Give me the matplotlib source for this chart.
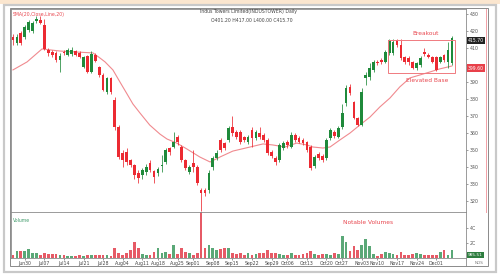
import matplotlib
matplotlib.use("Agg")
import matplotlib.pyplot as plt
import numpy as np
import pandas as pd
from matplotlib.patches import Rectangle
from matplotlib.lines import Line2D

# trading days (NSE holidays removed)
holidays = ["2025-08-15", "2025-08-27", "2025-10-02", "2025-10-22", "2025-11-05"]
dates = pd.bdate_range("2025-06-25", "2025-12-05")
dates = dates[~dates.isin(pd.to_datetime(holidays))]

opens = [
    416.5, 413.0, 418.8, 416.5, 420.6, 420.0, 426.0, 426.5, 423.5, 408.8,
    407.5, 407.0, 403.0, 407.7, 406.0, 406.5, 408.0, 407.0, 399.0, 405.3,
    396.0, 406.0, 399.0, 394.0, 384.0, 392.3, 379.4, 363.5, 348.3, 349.0,
    344.0, 341.2, 336.5, 335.3, 337.0, 342.4, 337.7, 336.5, 340.5, 343.0,
    351.0, 352.0, 357.6, 352.0, 344.2, 337.0, 342.4, 340.0, 326.5, 326.5,
    326.5, 340.0, 345.3, 356.0, 354.0, 356.0, 363.5, 360.6, 360.6, 357.7,
    354.7, 361.8, 357.0, 360.0, 359.0, 356.0, 348.8, 345.3, 344.2, 351.2,
    354.7, 351.8, 358.9, 357.0, 356.0, 354.7, 351.8, 340.6, 347.7, 346.5,
    345.3, 357.1, 360.6, 357.7, 363.5, 377.6, 387.0, 378.2, 368.8, 364.7,
    392.3, 392.9, 397.0, 401.8, 403.0, 401.8, 407.0, 407.0, 414.7, 411.8,
    404.7, 404.1, 401.8, 398.2, 400.0, 407.7, 405.9, 404.7, 404.7, 401.8,
    405.9, 401.8, 401.2]
highs = [
    418.0, 418.0, 420.0, 423.5, 426.5, 426.0, 428.5, 429.0, 427.0, 410.0,
    409.0, 408.5, 407.0, 409.0, 410.0, 410.5, 409.0, 408.0, 405.5, 406.0,
    408.0, 407.0, 399.5, 395.0, 393.0, 393.0, 381.0, 365.0, 350.0, 351.0,
    345.0, 342.0, 338.0, 339.5, 342.0, 344.0, 338.5, 340.0, 347.0, 351.0,
    352.0, 360.6, 359.0, 353.0, 345.0, 341.0, 350.0, 341.0, 327.5, 327.5,
    338.0, 346.5, 350.0, 357.0, 355.0, 364.0, 370.0, 362.0, 361.5, 358.5,
    359.0, 363.5, 362.0, 363.5, 360.0, 357.0, 350.0, 346.5, 354.0, 355.5,
    356.0, 360.5, 360.0, 358.0, 357.0, 355.5, 353.0, 347.0, 349.0, 347.5,
    357.0, 363.0, 362.0, 364.0, 377.0, 388.0, 389.0, 379.0, 369.5, 386.5,
    396.0, 401.0, 403.0, 403.0, 404.0, 409.0, 415.5, 415.5, 415.5, 415.0,
    405.5, 405.0, 402.5, 402.0, 405.0, 410.0, 407.0, 405.5, 405.5, 405.5,
    406.5, 413.5, 417.0]
lows = [
    411.5, 412.0, 412.0, 415.5, 419.5, 419.0, 424.5, 424.0, 409.0, 405.5,
    404.5, 402.0, 396.0, 406.0, 405.0, 405.5, 405.0, 404.0, 398.0, 395.0,
    395.0, 401.5, 393.0, 384.5, 383.0, 383.0, 362.0, 345.0, 340.0, 341.0,
    340.0, 333.0, 330.5, 333.0, 335.5, 337.0, 330.5, 335.0, 337.0, 342.0,
    347.0, 351.5, 353.0, 343.0, 338.0, 336.0, 337.0, 329.5, 314.0, 323.0,
    325.0, 338.0, 344.0, 349.0, 350.0, 355.0, 358.0, 356.5, 353.5, 355.0,
    353.5, 352.0, 356.0, 356.5, 355.0, 347.0, 345.5, 341.5, 343.0, 350.0,
    351.5, 351.0, 355.0, 354.0, 353.0, 349.0, 338.5, 339.5, 344.0, 343.0,
    344.0, 356.0, 357.0, 357.0, 362.5, 376.0, 382.5, 368.0, 364.0, 364.0,
    388.0, 391.0, 396.0, 400.0, 400.5, 401.0, 406.0, 406.0, 410.5, 403.0,
    400.5, 400.0, 397.5, 397.0, 399.0, 405.5, 404.0, 401.0, 396.5, 401.0,
    402.0, 398.5, 400.0]
closes = [
    414.5, 416.5, 413.0, 422.4, 425.3, 424.7, 427.0, 424.7, 409.5, 407.0,
    406.0, 403.0, 405.0, 407.0, 408.8, 409.0, 406.0, 404.7, 404.7, 396.0,
    406.5, 402.4, 394.0, 385.3, 392.3, 384.0, 363.5, 346.0, 344.2, 343.0,
    341.2, 335.3, 333.6, 338.3, 340.0, 338.3, 334.0, 338.8, 341.2, 350.0,
    349.0, 354.7, 354.7, 344.2, 339.4, 340.0, 340.0, 330.6, 324.7, 324.7,
    336.5, 345.3, 348.3, 350.0, 351.0, 363.0, 360.0, 357.7, 354.7, 356.0,
    357.7, 357.0, 360.6, 357.7, 356.0, 348.3, 346.5, 343.0, 353.0, 354.2,
    353.0, 358.9, 356.0, 354.7, 354.2, 350.0, 339.4, 346.0, 345.3, 344.2,
    356.0, 361.8, 358.3, 363.0, 371.8, 386.5, 383.5, 368.8, 364.7, 384.1,
    394.1, 398.2, 401.8, 401.2, 401.8, 407.7, 414.7, 413.5, 411.8, 404.1,
    401.8, 401.8, 398.2, 401.2, 404.1, 406.5, 404.7, 401.8, 397.1, 404.7,
    403.0, 408.8, 415.7]
# volume in crore shares
volumes = [
    0.40, 0.93, 0.93, 0.93, 1.20, 0.67, 0.67, 0.40, 0.67, 0.53,
    0.53, 0.53, 0.40, 0.40, 0.27, 0.27, 0.27, 0.40, 0.27, 0.40,
    0.40, 0.40, 0.40, 0.40, 0.40, 0.27, 1.33, 0.67, 0.40, 0.67,
    1.07, 2.13, 1.33, 0.53, 0.40, 0.40, 0.80, 1.33, 0.67, 0.80,
    0.53, 1.73, 0.53, 1.33, 0.80, 0.67, 0.40, 0.67, 6.20, 1.33,
    1.73, 1.33, 1.07, 1.20, 1.33, 1.33, 0.67, 0.53, 0.67, 0.40,
    0.67, 0.40, 0.53, 0.67, 0.67, 1.07, 0.67, 0.67, 0.53, 0.40,
    0.40, 0.67, 0.40, 0.40, 0.53, 0.67, 0.93, 0.53, 0.40, 0.53,
    0.53, 0.40, 0.67, 0.53, 2.93, 2.13, 0.93, 1.60, 1.07, 1.73,
    2.53, 1.60, 0.53, 0.27, 0.53, 0.80, 0.67, 0.53, 0.40, 0.80,
    0.40, 0.40, 0.53, 0.67, 0.53, 0.40, 0.40, 0.40, 0.40, 0.80,
    1.07, 0.40, 1.07]

# SMA(20) line: (bar position, value)
sma_pos = [0.0, 3.6, 7.4, 12.0, 16.3, 20.4, 22.2, 23.5, 25.5, 27.3, 29.1,
           30.6, 32.4, 34.9, 37.5, 39.3, 41.8, 44.4, 47.7, 50.3, 52.8, 56.1,
           60.5, 63.8, 66.3, 69.4, 72.4, 75.0, 76.5, 79.1, 80.9, 83.4, 86.0,
           88.5, 91.1, 93.6, 96.2, 98.7, 101.3, 103.8, 106.4, 108.9, 112.0]
sma_val = [397.1, 401.8, 409.4, 408.2, 407.6, 407.1, 404.1, 401.8, 397.1,
           390.0, 383.0, 377.1, 371.8, 364.7, 359.4, 356.5, 354.1, 350.6,
           345.9, 343.0, 345.9, 349.4, 351.8, 353.6, 353.0, 351.8, 354.1,
           353.0, 351.8, 351.2, 351.8, 355.9, 360.0, 364.7, 369.4, 375.3,
           380.6, 387.1, 392.4, 394.1, 395.9, 397.7, 399.4]

price_ticks = [320, 330, 340, 350, 360, 370, 380, 390, 400, 410, 420, 430]
base_box = (95.7, 112.8, 395.3, 414.7)   # x0, x1, y0, y1
last_close_lbl = "415.70"
sma_lbl = "399.60"
last_vol_lbl = "985.51"

GREEN = "#1f8a3b"
RED = "#ec2a32"
VGREEN = "#5aa877"
VRED = "#e65a66"
ANN = "#e8474f"

o = np.array(opens); h = np.array(highs); l = np.array(lows); c = np.array(closes)
x = np.arange(len(c))
up = c >= o
cols = np.where(up, GREEN, RED)
vcols = np.where(up, VGREEN, VRED)

W, H = 500, 280
def box(left, top, right, bottom):
    return [left / W, 1 - bottom / H, (right - left) / W, (bottom - top) / H]

fig = plt.figure(figsize=(5, 2.8), dpi=100)
fig.patch.set_facecolor("white")

# outer frame
fig.add_artist(Rectangle((0, 1 - 4 / H), 1, 4 / H, transform=fig.transFigure,
                         color="#fbe6cf", lw=0, zorder=0))
fig.add_artist(Rectangle((4 / W, 1 - 272 / H), 492 / W, 267 / H, transform=fig.transFigure,
                         fill=False, ec="#c9c9c9", lw=1.6, zorder=0))
fig.add_artist(Rectangle((10 / W, 1 - 266 / H), 478 / W, 258 / H, transform=fig.transFigure,
                         fill=False, ec="#8a8a8a", lw=0.7, zorder=5))
fig.add_artist(Line2D([486 / W, 486 / W], [1 - 9 / H, 1 - 212 / H], transform=fig.transFigure,
                      color="#f2a0a6", lw=0.7))
fig.add_artist(Line2D([466 / W, 466 / W], [1 - 258 / H, 1 - 266 / H], transform=fig.transFigure,
                      color="#8a8a8a", lw=0.6))

ax = fig.add_axes(box(11, 9, 466, 212))
axv = fig.add_axes(box(11, 212, 466, 258), sharex=ax)

# candles
ax.vlines(x, l, h, color=cols, lw=0.55, zorder=2)
ax.bar(x, np.maximum(np.abs(c - o), 0.4), bottom=np.minimum(o, c), width=0.7,
       color=cols, lw=0, zorder=3)
ax.plot(sma_pos, sma_val, color="#f08a8f", lw=0.8, zorder=1)

ax.set_xlim(-0.5, 115.6)
ax.set_ylim(313.6, 432.9)
ax.yaxis.tick_right()
ax.set_yticks(price_ticks)
# the SMA flag sits on top of the 400 label, as in the source chart
ax.set_yticklabels(["" if t == 400 else str(t) for t in price_ticks])
ax.tick_params(axis="y", labelsize=3.4, length=1.5, width=0.4, pad=1.5, colors="#555555")
ax.tick_params(axis="x", labelbottom=False, length=0)
for s in ax.spines.values():
    s.set_color("#8a8a8a"); s.set_linewidth(0.6)

# consolidation box and notes
x0, x1, y0, y1 = base_box
ax.add_patch(Rectangle((x0, y0), x1 - x0, y1 - y0, fill=False, ec="#f07a80", lw=0.7, zorder=4))
ax.text((x0 + x1) / 2 + 1, y1 + 2.2, "Breakout", color=ANN, fontsize=4.2, ha="center", va="bottom")
ax.text((x0 + x1) / 2 + 1.5, y0 - 3.2, "Elevated Base", color=ANN, fontsize=4.2, ha="center", va="top")

ax.text(0.004, 0.985, "SMA(20,Close,Line,20)", transform=ax.transAxes, color=ANN,
        fontsize=3.3, ha="left", va="top")
ax.text(0.523, 0.998, "Indus Towers Limited(INDUSTOWER) Daily", transform=ax.transAxes,
        color="#444444", fontsize=3.3, ha="center", va="top")
ax.text(0.530, 0.955, "O401.20 H417.00 L400.00 C415.70", transform=ax.transAxes,
        color="#444444", fontsize=3.3, ha="center", va="top")

# price flags on the right
ytr = ax.get_yaxis_transform()
ax.text(1.004, c[-1] - 1.5, last_close_lbl, transform=ytr, fontsize=3.3, color="white",
        ha="left", va="center", zorder=6,
        bbox=dict(boxstyle="square,pad=0.25", fc="#222222", ec="none"))
ax.text(1.004, sma_val[-1] - 1.2, sma_lbl, transform=ytr, fontsize=3.3, color="white",
        ha="left", va="center", zorder=6,
        bbox=dict(boxstyle="square,pad=0.25", fc="#e8404a", ec="none"))

# volume
axv.bar(x, volumes, width=0.7, color=vcols, lw=0)
axv.set_ylim(0, 6.13)
axv.yaxis.tick_right()
axv.set_yticks([2, 4])
axv.set_yticklabels(["2C", "4C"])
axv.tick_params(axis="y", labelsize=3.4, length=1.5, width=0.4, pad=1.5, colors="#555555")
for s in axv.spines.values():
    s.set_color("#8a8a8a"); s.set_linewidth(0.6)
axv.text(0.004, 0.88, "Volume", transform=axv.transAxes, color="#3f9a6a", fontsize=3.3,
         ha="left", va="top")
axv.text(90.5, 4.7, "Notable Volumes", color=ANN, fontsize=4.2, ha="center", va="center")
axv.text(1.004, 0.4, last_vol_lbl, transform=axv.get_yaxis_transform(), fontsize=3.1,
         color="white", ha="left", va="center", zorder=6,
         bbox=dict(boxstyle="square,pad=0.25", fc="#2e7d3f", ec="none"))

# weekly date ticks (first session of each week)
wk = pd.Series(np.arange(len(dates)), index=dates)
first = wk.groupby(dates.to_period("W")).first()
tick_pos = [p for p in first.values if dates[p] >= pd.Timestamp("2025-06-30")]
tick_lbl = [dates[p].strftime("%b%d") for p in tick_pos]
axv.set_xticks(tick_pos)
axv.set_xticklabels(tick_lbl)
axv.tick_params(axis="x", labelsize=3.3, length=1.5, width=0.4, pad=0.8, colors="#444444")
fig.text(479 / W, 1 - 263 / H, "NOS", fontsize=3.0, color="#777777", ha="center", va="center")

fig.savefig("out.png", dpi=100)
